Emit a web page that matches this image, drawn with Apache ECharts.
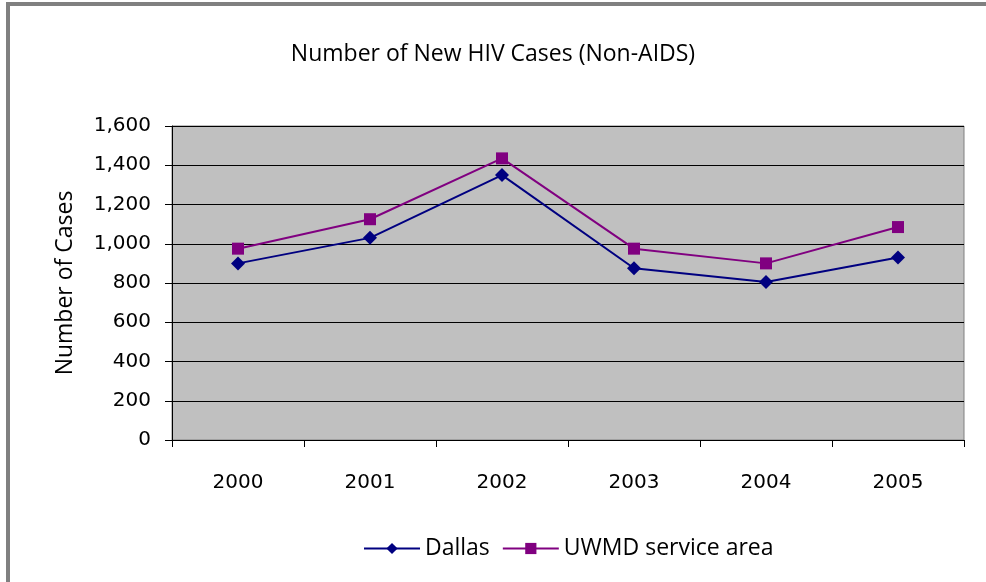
<!DOCTYPE html>
<html>
<head>
<meta charset="utf-8">
<script src="https://cdn.jsdelivr.net/npm/echarts@6/dist/echarts.min.js"></script>
<style>
  html, body { margin: 0; padding: 0; background: #fff; }
  #frame {
    position: absolute; left: 6px; top: 2px; width: 1200px; height: 800px;
    border-left: 4px solid #808080; border-top: 4px solid #808080;
  }
  #chart { position: absolute; left: 0; top: 0; width: 986px; height: 582px; }
</style>
</head>
<body>
<div id="frame"></div>
<div id="chart"></div>
<script>
const years = ['2000', '2001', '2002', '2003', '2004', '2005']
const dallas = [900, 1030, 1350, 875, 805, 930]
const uwmd = [975, 1125, 1435, 975, 900, 1085]

const chart = echarts.init(document.getElementById('chart'))
const labelFont = 'DejaVu Sans'
const textFont = 'Open Sans'

const option = {
  animation: false,
  title: {
    text: 'Number of New HIV Cases (Non-AIDS)',
    left: 'center',
    top: 38,
    textStyle: { fontFamily: textFont, fontWeight: 'normal', fontSize: 23, color: '#000' }
  },
  grid: {
    left: 172, right: 22, top: 126, bottom: 142,
    show: true,
    backgroundColor: '#C0C0C0',
    borderColor: '#808080',
    borderWidth: 1
  },
  legend: {
    bottom: 17,
    left: 358,
    itemWidth: 56,
    itemHeight: 14,
    itemGap: 12,
    textStyle: { fontFamily: textFont, fontSize: 23, color: '#000' },
    data: ['Dallas', 'UWMD service area']
  },
  xAxis: {
    type: 'category',
    data: years,
    boundaryGap: true,
    axisLine: { lineStyle: { color: '#000', width: 1 } },
    axisTick: { show: true, length: 7, lineStyle: { color: '#000' } },
    axisLabel: { fontFamily: labelFont, fontSize: 20, color: '#000', margin: 33 }
  },
  yAxis: {
    type: 'value',
    min: 0,
    max: 1600,
    interval: 200,
    name: 'Number of Cases',
    nameLocation: 'middle',
    nameGap: 95,
    nameTextStyle: { fontFamily: textFont, fontSize: 23, color: '#000' },
    axisLine: { show: true, lineStyle: { color: '#000' } },
    axisTick: { show: true, length: 7, lineStyle: { color: '#000' } },
    splitLine: { show: true, lineStyle: { color: '#000', width: 1 } },
    axisLabel: {
      fontFamily: labelFont, fontSize: 20, color: '#000', margin: 21,
      padding: [6, 0, 0, 0],
      formatter: v => v.toLocaleString('en-US')
    }
  },
  series: [
    {
      name: 'Dallas',
      type: 'line',
      data: dallas,
      symbol: 'diamond',
      symbolSize: 14,
      color: '#000080',
      lineStyle: { color: '#000080', width: 2 },
      itemStyle: { color: '#000080' }
    },
    {
      name: 'UWMD service area',
      type: 'line',
      data: uwmd,
      symbol: 'rect',
      symbolSize: 12,
      color: '#800080',
      lineStyle: { color: '#800080', width: 2 },
      itemStyle: { color: '#800080' }
    }
  ]
}
chart.setOption(option)
</script>
</body>
</html>
